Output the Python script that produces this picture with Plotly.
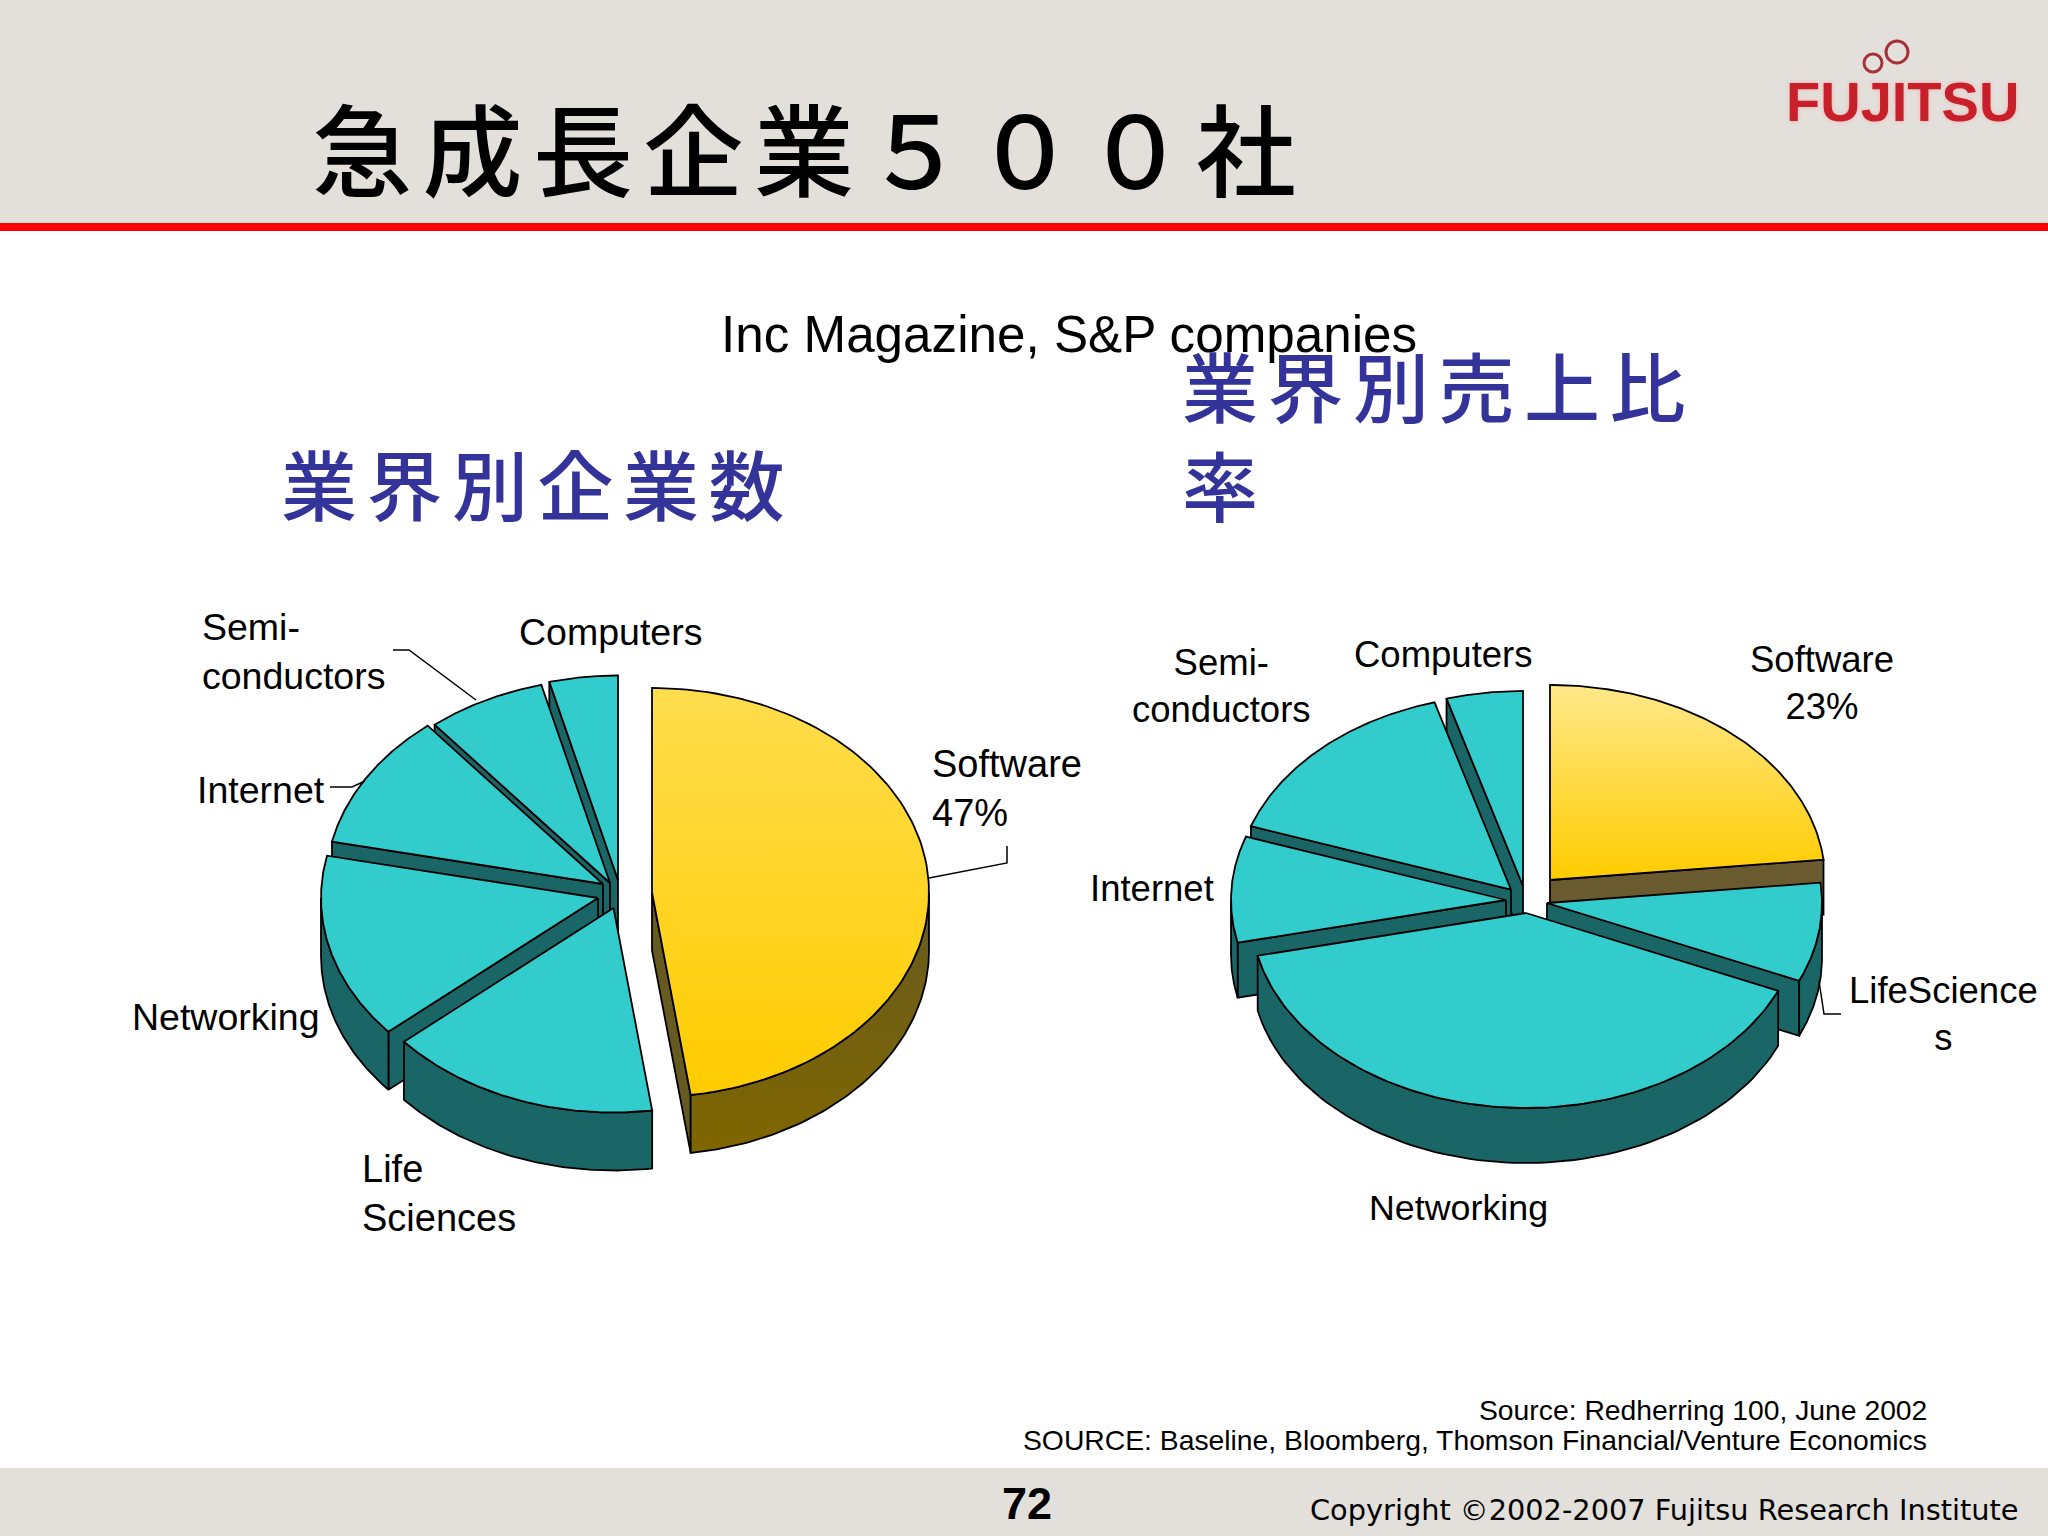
import numpy as np
import plotly.graph_objects as go

# ---------- data ----------
categories = ["Software", "Life Sciences", "Networking", "Internet", "Semi-conductors", "Computers"]
companies_share = [47, 16, 15, 11, 7, 4]          # left pie, 業界別企業数
revenue_share = [23, 8, 40, 9, 15.5, 4.5]         # right pie, 業界別売上比率

title = "急成長企業５００社"
subtitle = "Inc Magazine, S&P companies"
left_heading = "業界別企業数"
right_heading = "業界別売上比<br>率"
source_1 = "Source: Redherring 100, June 2002"
source_2 = "SOURCE: Baseline, Bloomberg, Thomson Financial/Venture Economics"
page_number = "72"
copyright_text = "Copyright ©2002-2007 Fujitsu Research Institute"

# ---------- pie geometry and style (pixels of the 2048x1536 slide) ----------
left_pie = dict(cx=625, cy=890, rx=277, ry=204.5, depth=58,
                explode=[(27, 2.5), (-11.5, 18), (-27, 8), (-22, -6), (-15, -7), (-7, -10)],
                order=[5, 4, 3, 2, 1, 0],
                top0=("#FFDD4D", "#FFCC00"), side0=("#665A20", "#806600"))
right_pie = dict(cx=1523, cy=890, rx=275, ry=195, depth=55,
                 explode=[(27, -10), (24, 13), (3, 23), (-17, 10), (-12, -0.4), (0, -4)],
                 order=[5, 4, 0, 3, 1, 2],
                 top0=("#FFE88A", "#FFCC00"), side0=("#6A5A30", "#6A5A30"))
TILT_SHIFT = np.radians(2.8)   # small angular drift caused by the 3-D view, largest at 6 o'clock
TEAL, TEAL_SIDE = "#33CCCC", "#1A6666"
BAND = "#E3DFDA"
BLUE = "#333399"
SANS = "Liberation Sans"
CJK = "Noto Sans CJK JP"

fig = go.Figure()


def add_poly(xs, ys, name, color=None, grad=None):
    # the vertical gradient runs bottom (0) to top (1)
    kw = dict(fillcolor=color) if grad is None else dict(
        fillgradient=dict(type="vertical", colorscale=[[0, grad[1]], [1, grad[0]]]))
    fig.add_trace(go.Scatter(x=xs, y=ys, mode="lines", fill="toself", name=name, hoverinfo="name",
                             showlegend=False, line=dict(color="#000000", width=1.8), **kw))


def draw_pie(values, p):
    total = sum(values)
    edges = np.concatenate([[0], np.cumsum(values)]) / total * 2 * np.pi
    edges = edges + TILT_SHIFT * (1 - np.cos(edges)) / 2
    for i in p["order"]:
        a0, a1 = edges[i], edges[i + 1]
        ax = p["cx"] + p["explode"][i][0]
        ay = p["cy"] + p["explode"][i][1]
        px = lambda t: ax + p["rx"] * np.sin(t)
        py = lambda t: ay - p["ry"] * np.cos(t)
        d = p["depth"]
        top_grad = p["top0"] if i == 0 else None
        side_grad = p["side0"] if i == 0 else None
        side_col = None if i == 0 else TEAL_SIDE
        # radial walls that face the viewer
        for a, visible in ((a0, np.sin(a0) < -1e-6), (a1, np.sin(a1) > 1e-6)):
            if visible:
                wall_col = p["side0"][0] if i == 0 else TEAL_SIDE
                add_poly([ax, px(a), px(a), ax, ax], [ay, py(a), py(a) + d, ay + d, ay],
                         categories[i], color=wall_col)
        # outer rim, lower half only
        lo, hi = max(a0, np.pi / 2), min(a1, 3 * np.pi / 2)
        if hi > lo:
            t = np.linspace(lo, hi, 80)
            xs = np.concatenate([px(t), px(t[::-1]), [px(t[0])]])
            ys = np.concatenate([py(t), py(t[::-1]) + d, [py(t[0])]])
            add_poly(xs, ys, categories[i], color=side_col, grad=side_grad)
        # top face
        t = np.linspace(a0, a1, 120)
        xs = np.concatenate([[ax], px(t), [ax]])
        ys = np.concatenate([[ay], py(t), [ay]])
        add_poly(xs, ys, categories[i], color=None if i == 0 else TEAL, grad=top_grad)


draw_pie(companies_share, left_pie)
draw_pie(revenue_share, right_pie)

# leader lines
leaders = [
    ([393, 409, 476], [650, 650, 700]),
    ([330, 352, 365], [787, 787, 781]),
    ([929, 1007, 1007], [878, 863, 846]),
    ([1819, 1824, 1841], [981, 1014, 1014]),
]
for lx, ly in leaders:
    fig.add_trace(go.Scatter(x=lx, y=ly, mode="lines", showlegend=False, hoverinfo="skip",
                             line=dict(color="#000000", width=1.5)))


def note(text, x, y, size, anchor="center", color="#000000", family=SANS, align="center", **font):
    fig.add_annotation(x=x, y=y, xref="x", yref="y", text=text, showarrow=False, xanchor=anchor,
                       yanchor="middle", align=align, font=dict(size=size, color=color, family=family, **font))


note(title, 310, 145, 100, anchor="left", family=CJK, align="left", weight=500)
note(subtitle, 1069, 334, 51.2)
note(left_heading, 279, 482, 76, anchor="left", color=BLUE, family=CJK, align="left", weight=500)
note(right_heading, 1180, 433, 76, anchor="left", color=BLUE, family=CJK, align="left", weight=500)

note("Semi-<br>conductors", 200, 651, 37.5, anchor="left", align="left")
note("Computers", 517, 632, 37.5, anchor="left")
note("Software<br>47%", 930, 788, 38, anchor="left", align="left")
note("Internet", 195, 790, 37.5, anchor="left")
note("Networking", 130, 1017, 37.5, anchor="left")
note("Life<br>Sciences", 360, 1193, 38, anchor="left", align="left")

note("Semi-<br>conductors", 1221, 686, 36.5)
note("Computers", 1443, 654, 36.5)
note("Software<br>23%", 1822, 683, 36.5)
note("Internet", 1152, 888, 36.5)
note("LifeScience<br>s", 1943, 1014, 36.5)
note("Networking", 1458, 1208, 35.8)

note(source_1, 1929, 1410, 28.3, anchor="right")
note(source_2, 1929, 1440, 28.3, anchor="right")
note(page_number, 1027, 1503, 45, family=SANS, weight="bold")
note(copyright_text, 2021, 1510, 28.8, anchor="right", family="DejaVu Sans")
note("FUJITSU", 1902, 101, 56, color="#C8202A", family=SANS, weight="bold",
     shadow="0 0 4px #F5B0B0")

shapes = [
    dict(type="rect", x0=0, x1=2048, y0=0, y1=223, fillcolor=BAND, line_width=0, layer="below"),
    dict(type="rect", x0=0, x1=2048, y0=223, y1=231, fillcolor="#FF0000", line_width=0, layer="below"),
    dict(type="rect", x0=0, x1=2048, y0=1468, y1=1536, fillcolor=BAND, line_width=0, layer="below"),
    dict(type="circle", x0=1864, x1=1882, y0=54, y1=72, line=dict(color="#A83038", width=3)),
    dict(type="circle", x0=1886, x1=1908, y0=41, y1=63, line=dict(color="#A83038", width=3)),
]

fig.update_layout(
    width=2048, height=1536, margin=dict(l=0, r=0, t=0, b=0), autosize=False,
    paper_bgcolor="#FFFFFF", plot_bgcolor="#FFFFFF", showlegend=False, shapes=shapes,
    xaxis=dict(range=[0, 2048], visible=False, fixedrange=True),
    yaxis=dict(range=[1536, 0], visible=False, fixedrange=True),
)

post = """
document.body.style.margin = '0';
var spacing = {'%s': '10.5px', '%s': '9.5px', '業界別売上比率': '9.5px', '業界別売上比': '9.5px'};
document.querySelectorAll('text.annotation-text').forEach(function (t) {
  var s = spacing[t.textContent];
  if (s) { t.style.letterSpacing = s; }
});
""" % (title, left_heading)

fig.write_html("out.html", post_script=post, config=dict(displayModeBar=False))
